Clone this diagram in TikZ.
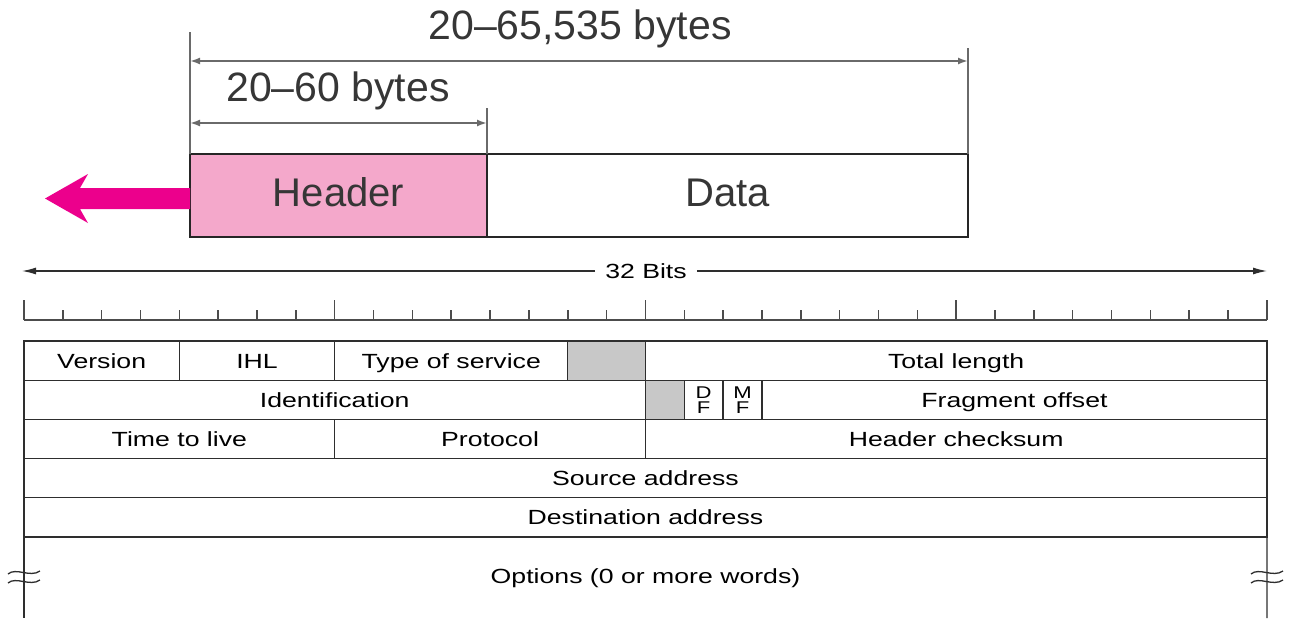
\documentclass[tikz,border=0pt]{standalone}
\usepackage{fontspec}
\setmainfont{Liberation Sans}
\newfontfamily\tblfont[FakeStretch=1.3]{Liberation Sans}
\usetikzlibrary{arrows.meta}
\definecolor{hdrpink}{HTML}{F4A8CB}
\definecolor{magentaarrow}{HTML}{EC008C}
\definecolor{cellgray}{HTML}{C8C8C8}
\definecolor{dimgray}{HTML}{6A6A6A}
\definecolor{labelgray}{HTML}{363636}
\definecolor{rule}{HTML}{2E2E2E}

% one header field: name, first bit, bit count, row, text
\newcommand\ipfield[5]{%
  \node[cell, minimum width={#3*38.84pt}] (#1) at ({24+#2*38.84},{341+#4*39.2}) {#5};}

\begin{document}
\begin{tikzpicture}[x=1pt,y=-1pt,
  bigtext/.style={font=\fontsize{41}{41}\selectfont, text=labelgray, inner sep=0pt},
  pktbox/.style={draw=black!85, line width=2.8pt, anchor=north west, inner sep=0pt, outer sep=0pt,
    minimum height=83pt, text height=27pt, text depth=5pt,
    font=\fontsize{40}{40}\selectfont, text=labelgray},
  dimline/.style={draw=dimgray, line width=1.8pt, {Latex[length=10pt,width=7pt]}-{Latex[length=10pt,width=7pt]}},
  extline/.style={draw=dimgray, line width=1.8pt},
  cell/.style={draw=rule, line width=1.3pt, anchor=north west, inner sep=0pt, outer sep=0pt,
    minimum height=39.2pt, text height=17pt, text depth=2pt,
    font=\tblfont\fontsize{20.5}{22}\selectfont},
  flagtext/.style={align=center, font=\tblfont\fontsize{17}{15}\selectfont, inner sep=0pt},
  thin/.style={draw=rule, line width=1.3pt},
  tick/.style={draw=black!70, line width=1.5pt},
  bitsarrow/.style={draw=rule, line width=1.2pt, -{Latex[length=14pt,width=7pt]}}]
\useasboundingbox (0,0) rectangle (1289,618);

% ---- datagram: header + data ----
\node[pktbox, fill=hdrpink, minimum width=297pt] (hdr) at (190,154) {Header};
\node[pktbox, minimum width=481pt] (data) at (hdr.north east) {Data};

% extension lines
\coordinate (extL) at (190,32);
\coordinate (extM) at (487,108);
\coordinate (extR) at (968,48);
\draw[extline] (hdr.north west) -- (extL);
\draw[extline] (hdr.north east) -- (extM);
\draw[extline] (data.north east) -- (extR);

% dimension arrows
\coordinate (totA) at (190,61);
\coordinate (totB) at (968,61);
\coordinate (hdA) at (190,123);
\coordinate (hdB) at (487,123);
\draw[dimline] (totA) -- (totB);
\draw[dimline] (hdA) -- (hdB);
\node[bigtext] (totlbl) at (580,29) {20–65,535 bytes};
\node[bigtext] (hdlbl) at (338,91) {20–60 bytes};

% magenta pointer out of the header
\fill[magentaarrow] ([yshift=-3pt]hdr.west) ++(0,-10.5) -- ++(-110,0) -- ++(8,-14)
  -- ++(-43,24.5) -- ++(43,24.5) -- ++(-8,-14) -- ++(110,0) -- cycle;

% ---- 32 bits width marker ----
\node[font=\tblfont\fontsize{20.5}{22}\selectfont, inner sep=10pt] (bits) at (646,271) {32 Bits};
\coordinate (bitsL) at (22,271);
\coordinate (bitsR) at (1267,271);
\draw[bitsarrow] (bits.west) -- (bitsL);
\draw[bitsarrow] (bits.east) -- (bitsR);

% bit ruler: long ticks every byte, short ticks every bit
\draw[draw=black!70, line width=1.8pt] (24,320) -- (1267,320);
\foreach \i in {0,...,32}{
  \pgfmathsetmacro\tx{24+\i*38.84}
  \pgfmathsetmacro\ty{mod(\i,8)==0 ? 300 : 310}
  \draw[tick] (\tx,320) -- (\tx,\ty);
}

% ---- IPv4 header fields ----
\ipfield{version}{0}{4}{0}{Version}
\ipfield{ihl}{4}{4}{0}{IHL}
\ipfield{tos}{8}{6}{0}{Type of service}
\node[cell, fill=cellgray, minimum width={2*38.84pt}] (res1) at ({24+14*38.84},341) {};
\ipfield{totlen}{16}{16}{0}{Total length}

\ipfield{ident}{0}{16}{1}{Identification}
\node[cell, fill=cellgray, minimum width={38.84pt}] (res2) at ({24+16*38.84},380.2) {};
\node[cell, minimum width={38.84pt}] (df) at ({24+17*38.84},380.2) {};
\node[flagtext] at (df.center) {D\\F};
\node[cell, minimum width={38.84pt}] (mf) at ({24+18*38.84},380.2) {};
\node[flagtext] at (mf.center) {M\\F};
\ipfield{fragoff}{19}{13}{1}{Fragment offset}

\ipfield{ttl}{0}{8}{2}{Time to live}
\ipfield{proto}{8}{8}{2}{Protocol}
\ipfield{hcsum}{16}{16}{2}{Header checksum}

\ipfield{src}{0}{32}{3}{Source address}
\ipfield{dst}{0}{32}{4}{Destination address}

% options row, open at the bottom
\node[font=\tblfont\fontsize{20.5}{22}\selectfont] (opt) at (645.5,578) {Options (0 or more words)};
\coordinate (optL) at (24,618);
\coordinate (optR) at (1267,618);
\draw[thin] (dst.south west) -- (optL);
\draw[thin] (dst.south east) -- (optR);

% break marks on both sides
\foreach \bx in {24,1267}{
  \foreach \by in {573,582}{
    \draw[draw=rule, line width=1.3pt]
      (\bx-16,\by+1) .. controls (\bx-8,\by-6) and (\bx+6,\by+5) .. (\bx+16,\by-2);
  }
}
\end{tikzpicture}
\end{document}
